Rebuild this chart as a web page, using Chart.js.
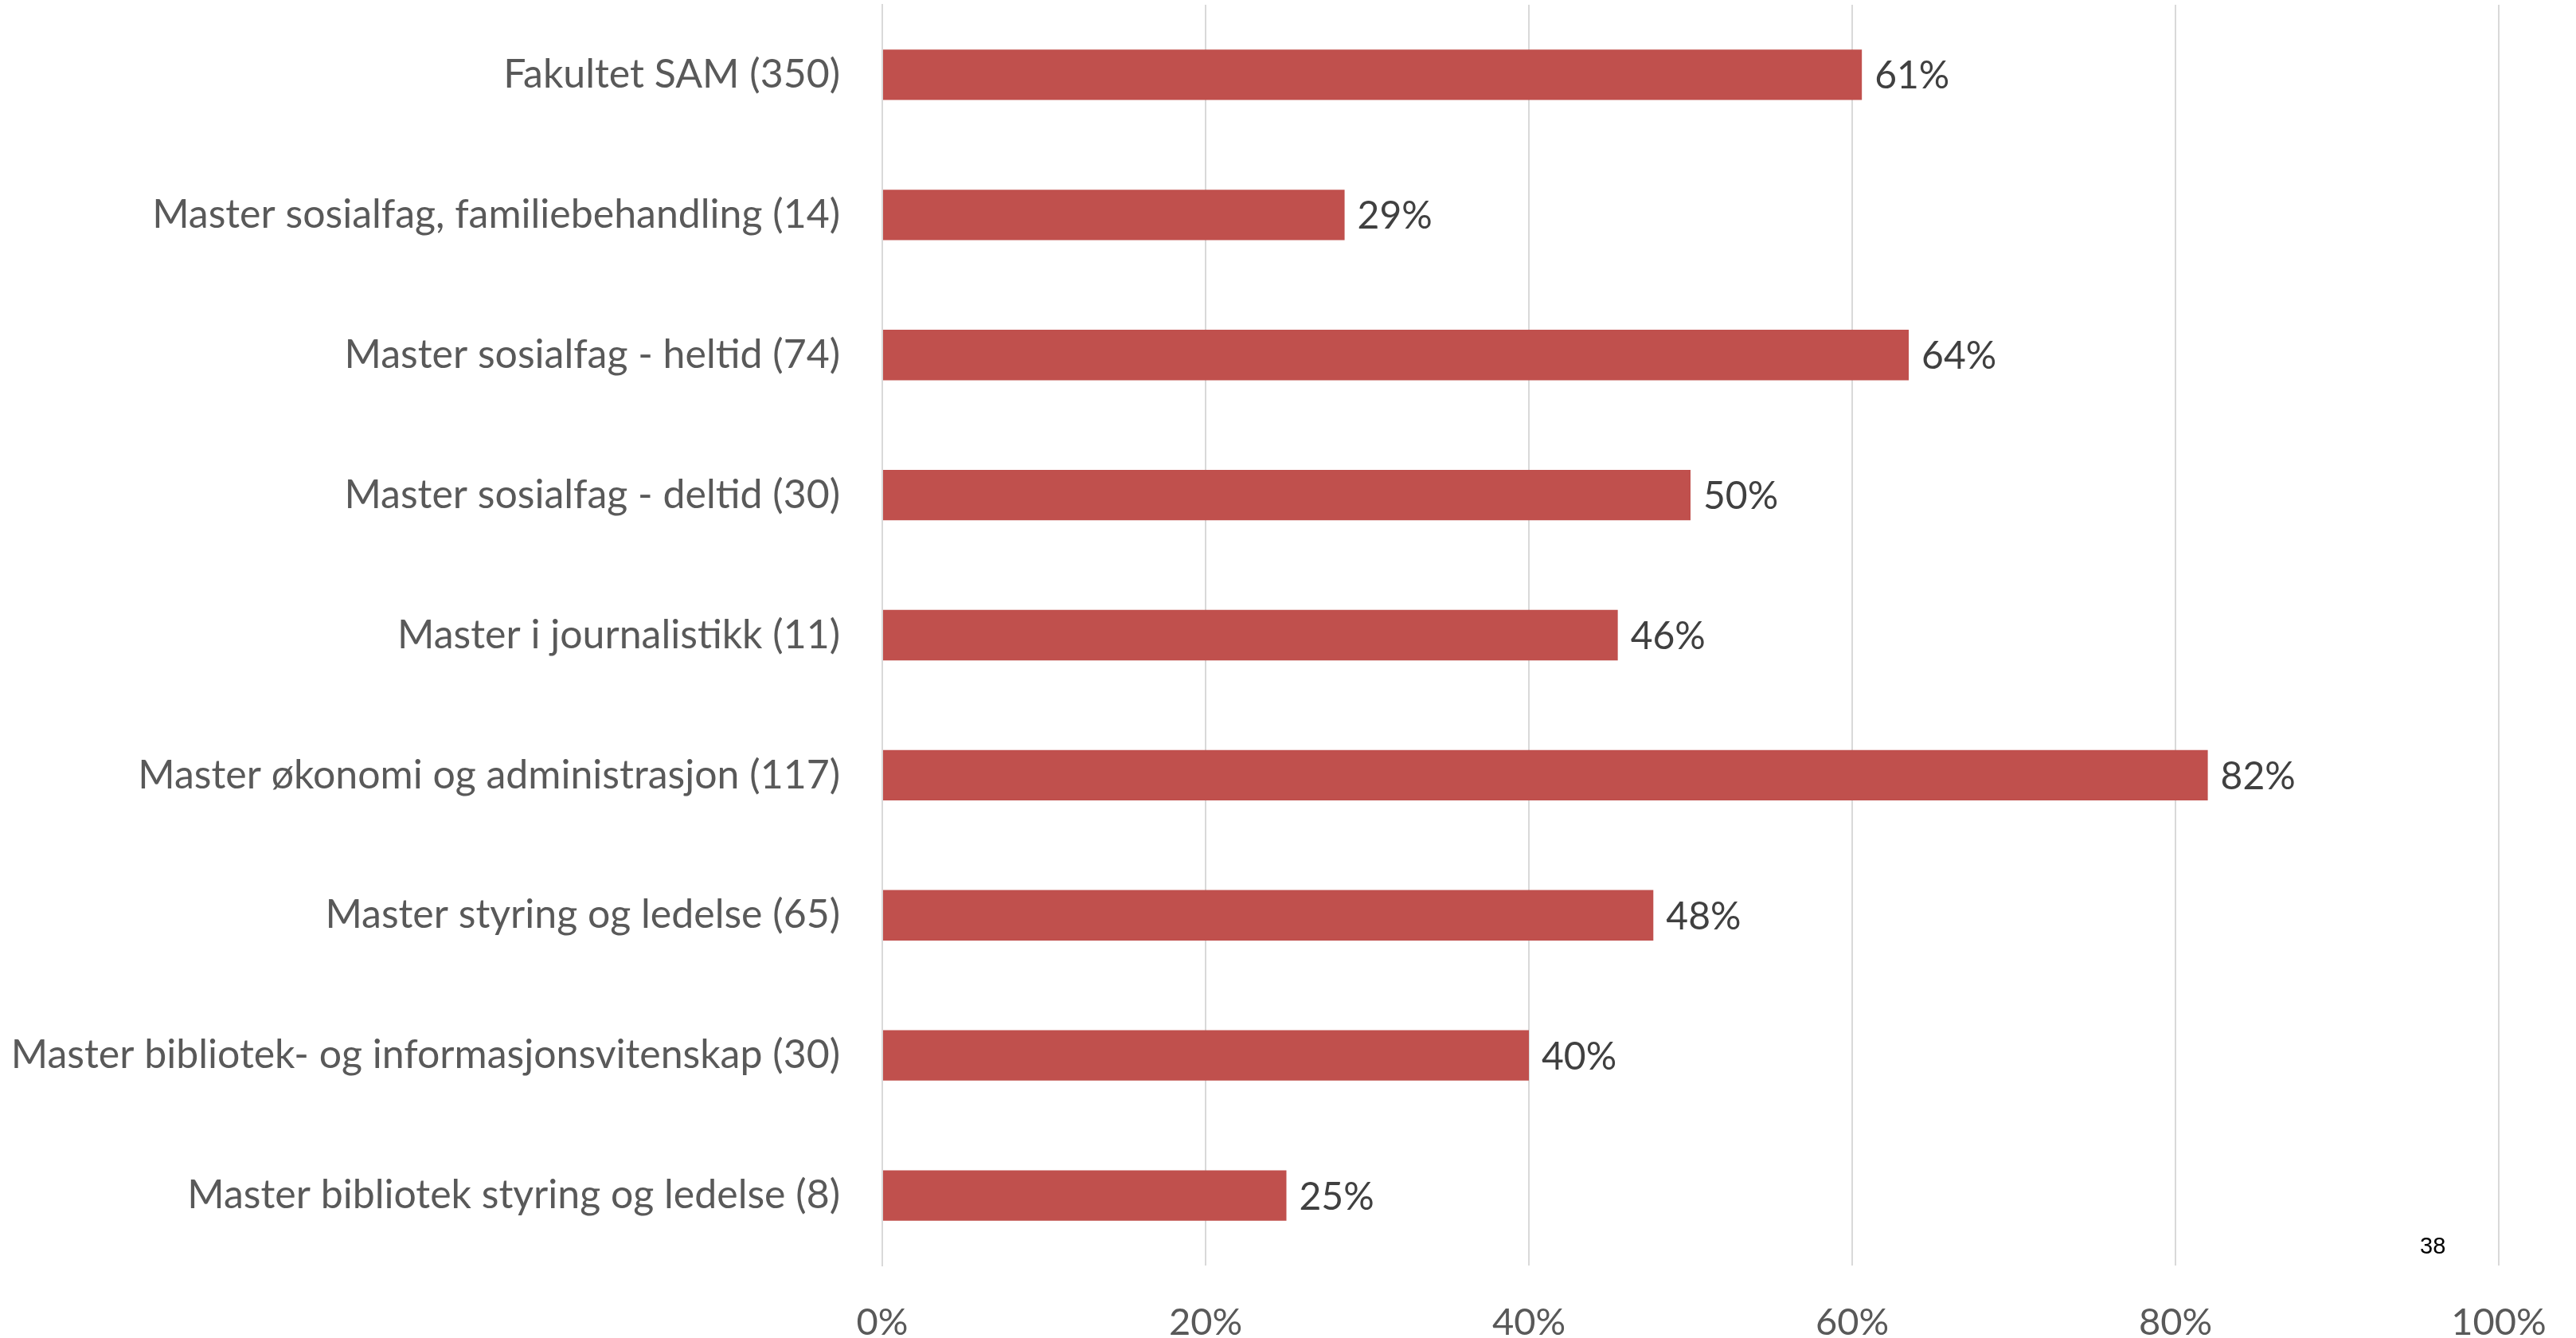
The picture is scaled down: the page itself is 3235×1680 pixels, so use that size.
<!DOCTYPE html>
<html>
<head>
<meta charset="utf-8">
<script src="https://cdn.jsdelivr.net/npm/chart.js@4/dist/chart.umd.min.js"></script>
<style>
  html, body { margin: 0; padding: 0; background: #ffffff; }
  #wrap { position: relative; width: 3235px; height: 1680px; }
  #pageNo { position: absolute; left: 3039px; top: 1548px; font: 29px "Liberation Sans", Arial, sans-serif; color: #000; }
</style>
</head>
<body>
<div id="wrap">
  <canvas id="chart" width="3235" height="1680"></canvas>
  <div id="pageNo">38</div>
</div>
<script>
// Categories (top to bottom) and share in percent
const categories = [
  'Fakultet SAM (350)',
  'Master sosialfag, familiebehandling (14)',
  'Master sosialfag - heltid (74)',
  'Master sosialfag - deltid (30)',
  'Master i journalistikk (11)',
  'Master økonomi og administrasjon (117)',
  'Master styring og ledelse (65)',
  'Master bibliotek- og informasjonsvitenskap (30)',
  'Master bibliotek styring og ledelse (8)'
];
const shares = [60.6, 28.6, 63.5, 50, 45.5, 82, 47.7, 40, 25];
const xTicks = [0, 20, 40, 60, 80, 100];

const FONT = 'Lato, "Noto Sans", sans-serif';

// draws the value after each bar
const valueLabels = {
  id: 'valueLabels',
  afterDatasetsDraw(chart) {
    const ctx = chart.ctx;
    const meta = chart.getDatasetMeta(0);
    ctx.save();
    ctx.font = '48px ' + FONT;
    ctx.fillStyle = '#404040';
    ctx.textAlign = 'left';
    ctx.textBaseline = 'middle';
    meta.data.forEach((bar, i) => {
      ctx.fillText(Math.round(shares[i]) + '%', bar.x + 16, bar.y + 2);
    });
    ctx.restore();
  }
};

new Chart(document.getElementById('chart'), {
  type: 'bar',
  data: {
    labels: categories,
    datasets: [{
      data: shares,
      backgroundColor: '#C0504D',
      borderWidth: 0,
      barPercentage: 0.36,
      categoryPercentage: 1
    }]
  },
  options: {
    indexAxis: 'y',
    responsive: false,
    animation: false,
    layout: { padding: { top: 6, right: 97, bottom: 0, left: 0 } },
    plugins: { legend: { display: false }, tooltip: { enabled: false } },
    scales: {
      x: {
        min: 0,
        max: 100,
        afterBuildTicks(scale) { scale.ticks = xTicks.map(v => ({ value: v })); },
        afterFit(scale) {
          scale.height = 91;
          scale.paddingLeft = 0;
          scale.paddingRight = 0;
        },
        grid: { color: '#D9D9D9', lineWidth: 2, drawTicks: false },
        border: { display: false },
        ticks: {
          padding: 44,
          color: '#595959',
          font: { family: FONT, size: 47 },
          callback: v => v + '%'
        }
      },
      y: {
        afterFit(scale) {
          scale.width = 1108;
          scale.paddingTop = 0;
          scale.paddingBottom = 0;
        },
        grid: { display: false },
        border: { display: true, color: '#D9D9D9', width: 2 },
        ticks: {
          padding: 45,
          color: '#595959',
          font: { family: FONT, size: 50 }
        }
      }
    }
  },
  plugins: [valueLabels]
});
</script>
</body>
</html>
